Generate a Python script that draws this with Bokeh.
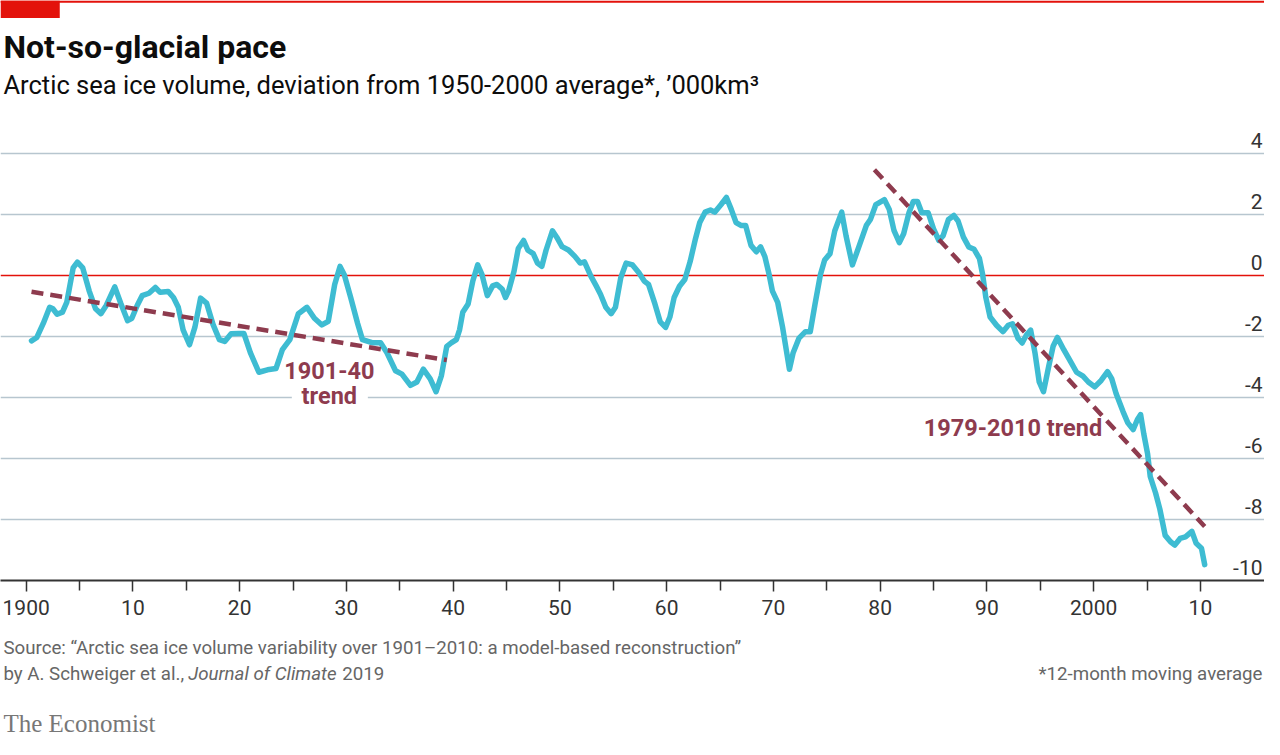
from bokeh.plotting import figure
from bokeh.layouts import column
from bokeh.models import Label, Span, FixedTicker, Range1d
from bokeh.core.properties import value
from bokeh.embed import file_html
from bokeh.resources import INLINE

# ---------------- data ----------------
years = [1900.5, 1901.0, 1901.6, 1902.2, 1902.5, 1902.9, 1903.4, 1903.8, 1904.4, 1904.8,
         1905.3, 1905.9, 1906.5, 1907.0, 1907.5, 1908.3, 1908.85, 1909.5, 1909.9, 1910.4,
         1910.86, 1911.5, 1912.1, 1912.55, 1913.3, 1913.8, 1914.25, 1914.7, 1915.3, 1915.8,
         1916.34, 1916.9, 1917.5, 1918.1, 1918.6, 1919.2, 1919.9, 1920.4, 1921.0, 1921.8,
         1922.6, 1923.4, 1924.0, 1924.7, 1925.5, 1926.3, 1927.0, 1927.7, 1928.3, 1928.9,
         1929.4, 1929.8, 1930.4, 1931.05, 1931.5, 1932.4, 1933.2, 1933.8, 1934.6, 1935.2,
         1936.0, 1936.6, 1937.2, 1937.85, 1938.4, 1938.9, 1939.4, 1939.85, 1940.3, 1940.6,
         1940.9, 1941.4, 1941.84, 1942.3, 1942.7, 1943.2, 1943.7, 1944.1, 1944.6, 1944.9,
         1945.2, 1945.7, 1946.1, 1946.6, 1947.0, 1947.5, 1947.9, 1948.3, 1948.7, 1949.3,
         1949.7, 1950.2, 1950.8, 1951.4, 1951.9, 1952.3, 1952.9, 1953.4, 1953.8, 1954.3,
         1954.8, 1955.2, 1955.7, 1956.2, 1956.8, 1957.4, 1957.9, 1958.3, 1958.9, 1959.4,
         1959.9, 1960.3, 1960.7, 1961.2, 1961.7, 1962.2, 1962.7, 1963.1, 1963.6, 1964.1,
         1964.5, 1965.1, 1965.6, 1966.05, 1966.5, 1967.0, 1967.4, 1967.9, 1968.4, 1968.8,
         1969.2, 1969.6, 1969.9, 1970.4, 1970.85, 1971.2, 1971.5, 1971.85, 1972.4, 1973.0,
         1973.45, 1973.9, 1974.4, 1974.8, 1975.3, 1975.75, 1976.4, 1976.8, 1977.4, 1978.0,
         1978.7, 1979.1, 1979.6, 1980.4, 1980.85, 1981.3, 1981.8, 1982.2, 1982.7, 1983.1,
         1983.5, 1983.9, 1984.5, 1985.0, 1985.5, 1985.9, 1986.4, 1986.9, 1987.3, 1987.8,
         1988.3, 1988.8, 1989.3, 1989.6, 1989.9, 1990.3, 1990.9, 1991.5, 1992.0, 1992.4,
         1992.9, 1993.3, 1993.7, 1994.1, 1994.5, 1994.9, 1995.3, 1995.8, 1996.2, 1996.6,
         1997.2, 1997.8, 1998.4, 1999.0, 1999.5, 2000.1, 2000.7, 2001.3, 2001.7, 2002.1,
         2002.75, 2003.2, 2003.7, 2004.1, 2004.4, 2004.7, 2005.05, 2005.3, 2005.8, 2006.2,
         2006.7, 2007.2, 2007.6, 2008.1, 2008.6, 2009.2, 2009.6, 2010.1, 2010.4]
ice_volume = [-2.14, -2.03, -1.57, -1.04, -1.09, -1.27, -1.20, -0.88, 0.25, 0.44,
              0.25, -0.50, -1.09, -1.25, -0.98, -0.37, -0.90, -1.48, -1.40, -0.98,
              -0.66, -0.58, -0.39, -0.55, -0.52, -0.72, -1.04, -1.78, -2.27, -1.70,
              -0.74, -0.90, -1.60, -2.10, -2.16, -1.91, -1.90, -1.90, -2.53, -3.17,
              -3.09, -3.05, -2.43, -2.10, -1.25, -1.04, -1.40, -1.62, -1.50, -0.29,
              0.30, 0.03, -0.72, -1.57, -2.10, -2.20, -2.20, -2.53, -3.12, -3.23,
              -3.60, -3.49, -3.07, -3.39, -3.81, -3.28, -2.32, -2.20, -2.10, -1.78,
              -1.20, -0.93, -0.18, 0.35, 0.03, -0.66, -0.34, -0.29, -0.45, -0.72,
              -0.50, 0.14, 0.89, 1.15, 0.83, 0.72, 0.41, 0.30, 0.83, 1.47,
              1.26, 0.95, 0.84, 0.63, 0.41, 0.45, -0.02, -0.34, -0.61, -1.04,
              -1.25, -1.04, -0.07, 0.41, 0.35, 0.09, -0.18, -0.29, -0.93, -1.52,
              -1.70, -1.36, -0.72, -0.35, -0.13, 0.46, 1.21, 1.74, 2.08, 2.15,
              2.08, 2.33, 2.56, 2.17, 1.74, 1.64, 1.64, 0.99, 0.78, 0.94,
              0.62, 0.03, -0.50, -0.88, -1.68, -2.43, -3.07, -2.53, -2.05, -1.84,
              -1.84, -0.93, 0.03, 0.51, 0.72, 1.47, 2.08, 1.31, 0.35, 0.94,
              1.64, 1.85, 2.33, 2.49, 2.17, 1.47, 1.08, 1.37, 2.06, 2.43,
              2.43, 2.06, 2.06, 1.53, 1.15, 1.31, 1.84, 1.97, 1.79, 1.26,
              0.94, 0.86, 0.56, 0.03, -0.72, -1.36, -1.63, -1.84, -1.63, -1.58,
              -2.05, -2.21, -1.95, -1.79, -2.53, -3.49, -3.81, -2.96, -2.32, -2.03,
              -2.43, -2.80, -3.17, -3.30, -3.49, -3.65, -3.44, -3.15, -3.39, -3.87,
              -4.46, -4.83, -5.05, -4.72, -4.56, -5.20, -5.84, -6.59, -7.13, -7.66,
              -8.52, -8.73, -8.84, -8.62, -8.57, -8.39, -8.78, -8.94, -9.48]

trend_1901_years = [1900.5, 1939.4]
trend_1901_values = [-0.53, -2.77]
trend_1979_years = [1979.46, 2010.4]
trend_1979_values = [3.47, -8.23]

x_ticks = [1900, 1910, 1920, 1930, 1940, 1950, 1960, 1970, 1980, 1990, 2000, 2010]
x_tick_labels = ["1900", "10", "20", "30", "40", "50", "60", "70", "80", "90", "2000", "10"]
x_minor_ticks = [1905, 1915, 1925, 1935, 1945, 1955, 1965, 1975, 1985, 1995, 2005]
y_ticks = [-10, -8, -6, -4, -2, 0, 2, 4]
y_tick_labels = ["-10", "-8", "-6", "-4", "-2", "0", "2", "4"]
y_grid_ticks = [-8, -6, -4, -2, 2, 4]

# ---------------- layout (reference page is 1280x755, scaled into 1264x739) ----------------
W, H = 1264, 739
SX, SY = W / 1280, H / 755
PX_YR, X1900 = 10.81, 26.0        # reference px per year, reference px of 1900
PX_U, Y_ZERO = 31.15, 281.0       # reference px per unit, reference px of 0
MAIN_H = 636
FRAME_H = 580
FOOT_H = H - MAIN_H
SHIFT = 9                          # label baseline correction, reference px


def xs(rx):
    return 1900 + (rx - X1900) / PX_YR


def ys(ry):
    return (Y_ZERO - ry) / PX_U


x_start, x_end = xs(0), xs(1280)
y_start = -10
y_end = ys(0)

RED = "#E3120B"
CYAN = "#3EBCD2"
MAROON = "#8E3B4E"
GRID = "#B7C6CF"
DARK = "#333333"
GREY = "#666666"
FONT = "Roboto"

p = figure(width=W, height=MAIN_H, x_range=Range1d(x_start, x_end), y_range=Range1d(y_start, y_end),
           output_backend="svg", toolbar_location=None, y_axis_location=None,
           min_border_left=0, min_border_right=0, min_border_top=0,
           min_border_bottom=MAIN_H - FRAME_H, outline_line_color=None,
           background_fill_color="white", border_fill_color="white")

p.xgrid.visible = False
p.ygrid.ticker = FixedTicker(ticks=y_grid_ticks)
p.ygrid.grid_line_color = GRID
p.ygrid.grid_line_width = 1.7

zero = Span(location=0, dimension="width", line_color=RED, line_width=1.4, level="underlay")
p.add_layout(zero)

ax = p.xaxis[0]
ax.ticker = FixedTicker(ticks=x_ticks, minor_ticks=x_minor_ticks)
ax.major_label_overrides = {t: l for t, l in zip(x_ticks, x_tick_labels)}
ax.axis_line_color = DARK
ax.axis_line_width = 2
ax.major_tick_line_color = DARK
ax.major_tick_line_width = 1.5
ax.minor_tick_line_color = DARK
ax.minor_tick_line_width = 1.5
ax.major_tick_in = 0
ax.major_tick_out = 11
ax.minor_tick_in = 0
ax.minor_tick_out = 10
ax.major_label_standoff = 8
ax.major_label_text_font = FONT
ax.major_label_text_font_size = "21px"
ax.major_label_text_color = DARK

# y tick labels sitting on the gridlines at the right
p.text(x=[xs(1278)] * len(y_ticks), y=y_ticks, text=y_tick_labels,
       text_align="right", text_baseline="bottom", y_offset=-6,
       text_font=value(FONT), text_font_size="21px", text_color=DARK)

# white gap behind "trend"
p.quad(left=[xs(295)], right=[xs(372)], top=[ys(400)], bottom=[ys(410)],
       fill_color="white", line_color=None)

# data line
p.line(years, ice_volume, line_color=CYAN, line_width=5.5, line_join="round", line_cap="round")

# trend lines
p.line(trend_1901_years, trend_1901_values, line_color=MAROON, line_width=4.5, line_dash="12 7")
p.line(trend_1979_years, trend_1979_values, line_color=MAROON, line_width=4.5, line_dash="12 7")

# red top decoration
p.quad(left=[x_start], right=[x_end], top=[y_end], bottom=[ys(2.2)], fill_color=RED, line_color=None)
p.quad(left=[x_start], right=[xs(60)], top=[y_end], bottom=[ys(18)], fill_color=RED, line_color=None)


def add_label(fig, x, y, text, size, font=FONT, style="normal", color=DARK, align="left"):
    fig.add_layout(Label(x=x, y=y, text=text, text_font=font, text_font_size=size,
                         text_font_style=style, text_color=color, text_align=align,
                         text_baseline="alphabetic"))


add_label(p, xs(3), ys(56 - SHIFT), "Not-so-glacial pace", "32px", style="bold", color="#0d0d0d")
add_label(p, xs(3), ys(86), "Arctic sea ice volume, deviation from 1950-2000 average*, \u2019000km\u00b3",
          "25.5px", color="#0d0d0d")

add_label(p, xs(333), ys(387 - SHIFT), "1901-40", "23.5px", style="bold", color=MAROON, align="center")
add_label(p, xs(333), ys(413 - SHIFT), "trend", "23.5px", style="bold", color=MAROON, align="center")
add_label(p, xs(935), ys(446 - SHIFT), "1979-2010 trend", "23.5px", style="bold", color=MAROON)

# ---------------- footer (source, note, logo) in reference pixel coordinates ----------------
foot = figure(width=W, height=FOOT_H, x_range=Range1d(0, 1280),
              y_range=Range1d(755, 755 - FOOT_H / SY),
              output_backend="svg", toolbar_location=None,
              x_axis_location=None, y_axis_location=None,
              min_border_left=0, min_border_right=0, min_border_top=0, min_border_bottom=0,
              outline_line_color=None, background_fill_color="white", border_fill_color="white")
foot.grid.visible = False

add_label(foot, 3, 671 - SHIFT, "Source: \u201cArctic sea ice volume variability over 1901\u20132010: a model-based reconstruction\u201d",
          "18.7px", color=GREY)
add_label(foot, 3, 697 - SHIFT, "by A. Schweiger et al.,", "18.7px", color=GREY)
add_label(foot, 190, 697 - SHIFT, "Journal of Climate", "18.7px", style="italic", color=GREY)
add_label(foot, 346, 697 - SHIFT, "2019", "18.7px", color=GREY)
add_label(foot, 1278, 697 - SHIFT, "*12-month moving average", "18.7px", color=GREY, align="right")
add_label(foot, 3, 748 - SHIFT, "The Economist", "25px", font="Liberation Serif", color="#777777")

layout = column(p, foot, spacing=0)
open("out.html", "w").write(file_html(layout, INLINE))
